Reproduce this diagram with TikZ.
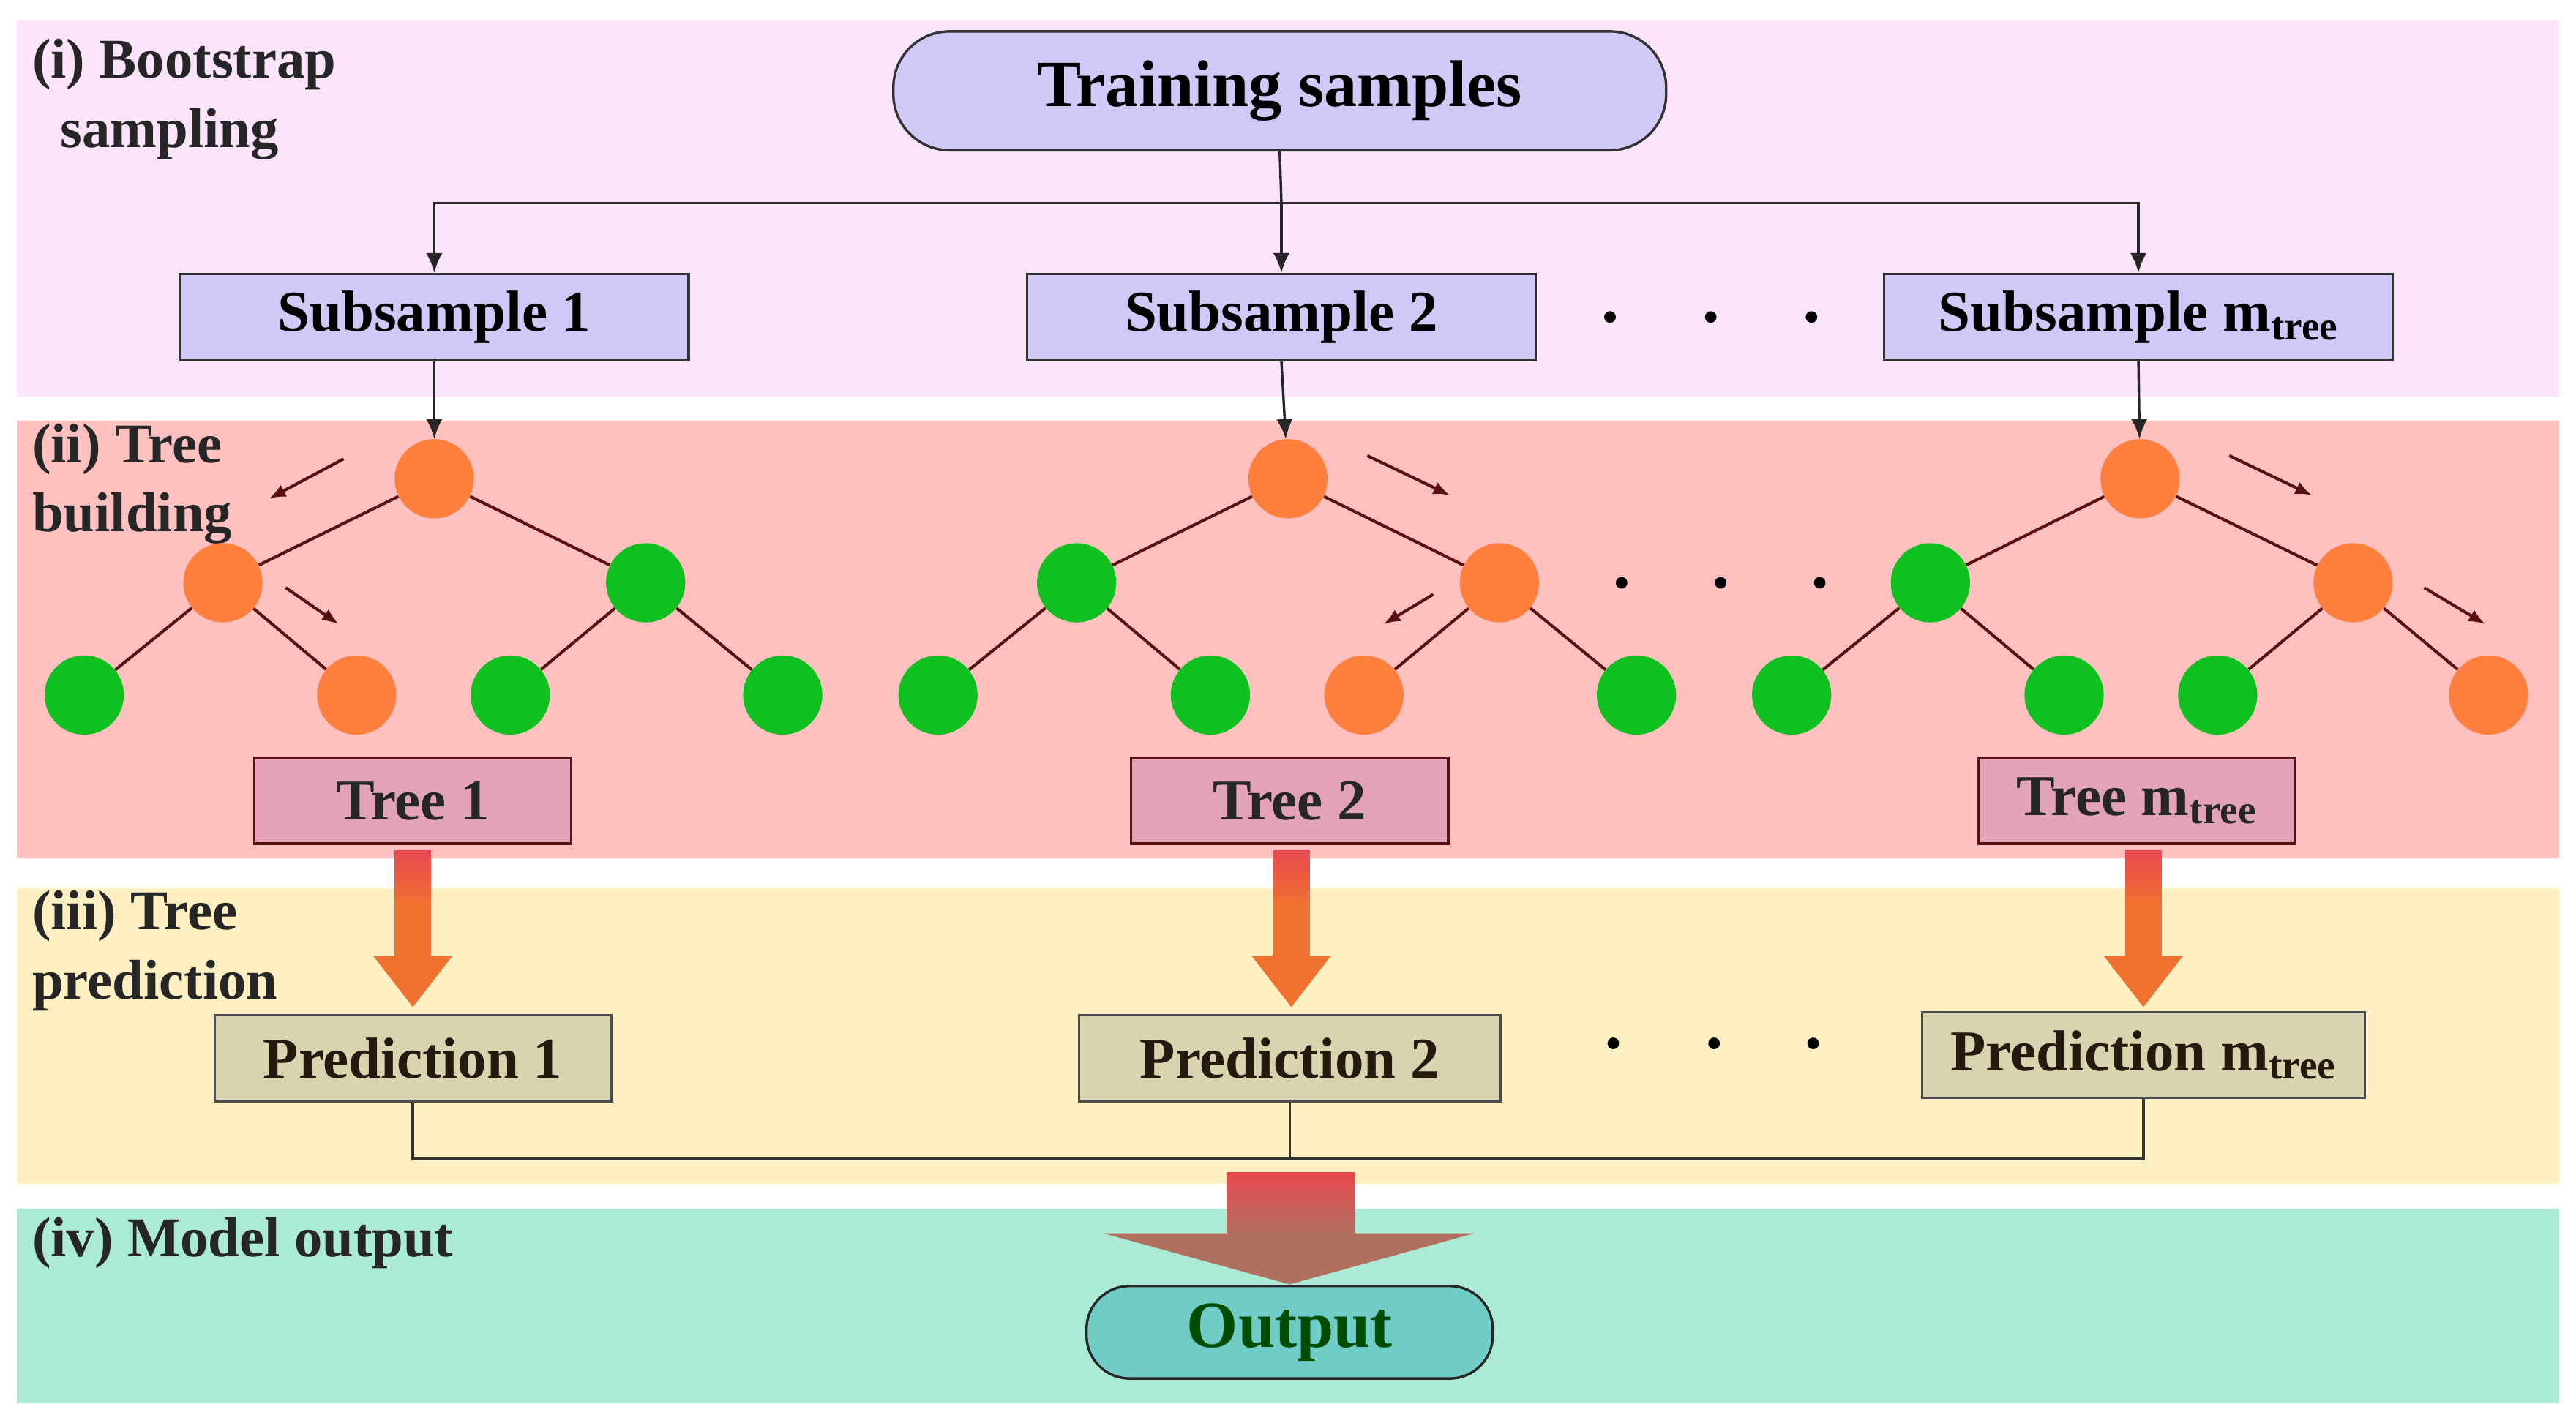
\documentclass[tikz,border=0pt]{standalone}
\usepackage{fontspec}
\setmainfont{Liberation Serif}
\usetikzlibrary{arrows.meta,calc}
\definecolor{bandA}{HTML}{FCE4FC}
\definecolor{bandB}{HTML}{FFC0C0}
\definecolor{bandC}{HTML}{FFF0C4}
\definecolor{bandD}{HTML}{AAEAD6}
\definecolor{lav}{HTML}{D0C8F6}
\definecolor{treebox}{HTML}{E2A2B8}
\definecolor{predbox}{HTML}{D8D4B0}
\definecolor{outbox}{HTML}{70CCC6}
\definecolor{org}{HTML}{FF7F3F}
\definecolor{grn}{HTML}{10C020}
\definecolor{dk}{HTML}{5A1010}
\definecolor{arrO}{HTML}{F07030}
\definecolor{arrR}{HTML}{E84850}
\definecolor{brn}{HTML}{B07060}
\begin{document}
\begin{tikzpicture}[x=1pt,y=-1pt,
 box/.style={draw=black!80,line width=1.5pt,minimum height=52pt,inner sep=0pt,font=\fontsize{35}{38}\selectfont\bfseries},
 sub/.style={box,fill=lav,minimum width=308pt},
 tb/.style={box,fill=treebox,draw=dk,minimum width=192pt,text=black!85},
 pb/.style={box,fill=predbox,draw=black!70,text=black!80!brown},
 lab/.style={anchor=north west,align=left,font=\fontsize{34}{42}\selectfont\bfseries,text=black!85},
 on/.style={circle,fill=org,minimum size=48pt,inner sep=0pt},
 gn/.style={circle,fill=grn,minimum size=48pt,inner sep=0pt},
 e/.style={draw=dk,line width=1.8pt},
 ar/.style={-{Latex[length=12pt,width=10pt]},line width=1.5pt,black!85},
 sa/.style={-{Latex[length=10pt,width=8pt]},line width=1.8pt,dk},
 dot/.style={circle,fill=black,minimum size=7pt,inner sep=0pt}]
\useasboundingbox (0,0) rectangle (1560,857);
\fill[white] (0,0) rectangle (1560,857);
\fill[bandA] (10,12) rectangle (1550,240);
\fill[bandB] (10,255) rectangle (1550,520);
\fill[bandC] (10,538) rectangle (1550,717);
\fill[bandD] (10,732) rectangle (1550,850);
\node[lab] (l1) at (16,20) {(i) Bootstrap\\\ \ sampling};
\node[lab] (l2) at (16,253) {(ii) Tree\\building};
\node[lab] (l3) at (16,536) {(iii) Tree\\prediction};
\node[lab] (l4) at (16,734) {(iv) Model output};

\node[box,fill=lav,rounded corners=34pt,minimum width=468pt,minimum height=72pt,font=\fontsize{40}{44}\selectfont\bfseries] (ts) at (775,55) {Training samples};
\node[sub] (s1) at (263,192) {Subsample 1};
\node[sub] (s2) at (776,192) {Subsample 2};
\node[sub] (s3) at (1295,192) {Subsample m\textsubscript{tree}};
\coordinate (j) at (776,123);
\draw[line width=1.5pt,black!85] (ts.south) -- (j);
\draw[ar] (j) -| (s1.north);
\draw[ar] (j) -- (s2.north);
\draw[ar] (j) -| (s3.north);
\foreach \x [count=\i] in {975,1036,1097} \node[dot] (da\i) at (\x,192) {};

% trees
\node[on] (r1) at (263,290) {}; \node[on] (a1) at (135,353) {}; \node[gn] (b1) at (391,353) {};
\node[gn] (c1) at (51,421) {}; \node[on] (d1) at (216,421) {}; \node[gn] (f1) at (309,421) {}; \node[gn] (g1) at (474,421) {};
\node[on] (r2) at (780,290) {}; \node[gn] (a2) at (652,353) {}; \node[on] (b2) at (908,353) {};
\node[gn] (c2) at (568,421) {}; \node[gn] (d2) at (733,421) {}; \node[on] (f2) at (826,421) {}; \node[gn] (g2) at (991,421) {};
\node[on] (r3) at (1296,290) {}; \node[gn] (a3) at (1169,353) {}; \node[on] (b3) at (1425,353) {};
\node[gn] (c3) at (1085,421) {}; \node[gn] (d3) at (1250,421) {}; \node[gn] (f3) at (1343,421) {}; \node[on] (g3) at (1507,421) {};
\foreach \t in {1,2,3}{
 \draw[e] (r\t) -- (a\t); \draw[e] (r\t) -- (b\t);
 \draw[e] (a\t) -- (c\t); \draw[e] (a\t) -- (d\t);
 \draw[e] (b\t) -- (f\t); \draw[e] (b\t) -- (g\t);}
\draw[ar] (s1.south) -- (r1); \draw[ar] (s2.south) -- (r2); \draw[ar] (s3.south) -- (r3);
\coordinate (p1) at (208,278); \coordinate (q1) at (163,302);
\coordinate (p2) at (173,356); \coordinate (q2) at (205,378);
\coordinate (p3) at (828,276); \coordinate (q3) at (878,300);
\coordinate (p4) at (868,360); \coordinate (q4) at (838,378);
\coordinate (p5) at (1350,276); \coordinate (q5) at (1400,300);
\coordinate (p6) at (1468,356); \coordinate (q6) at (1505,378);
\foreach \i in {1,...,6} \draw[sa] (p\i) -- (q\i);
\foreach \x [count=\i] in {982,1042,1102} \node[dot] (db\i) at (\x,353) {};

\node[tb] (t1) at (250,485) {Tree 1};
\node[tb] (t2) at (781,485) {Tree 2};
\node[tb] (t3) at (1294,485) {Tree m\textsubscript{tree}};

\node[pb,minimum width=240pt] (pr1) at (250,641) {Prediction 1};
\node[pb,minimum width=255pt] (pr2) at (781,641) {Prediction 2};
\node[pb,minimum width=268pt] (pr3) at (1298,639) {Prediction m\textsubscript{tree}};
\foreach \x [count=\i] in {977,1038,1098} \node[dot] (dc\i) at (\x,632) {};

% thick arrows
\foreach \x/\a/\b in {250/t1/pr1,782/t2/pr2,1298/t3/pr3}{
 \shade[top color=arrR,bottom color=arrO,middle color=arrO] (\x-11,515) rectangle (\x+11,580);
 \fill[arrO] (\x-24,579) -- (\x+24,579) -- (\x,610) -- cycle;}

\coordinate (m) at (781,702);
\draw[line width=1.5pt,black!80] (pr1.south) |- (m) -| (pr3.south);
\draw[line width=1.5pt,black!80] (pr2.south) -- (m);

\shade[top color=arrR,bottom color=brn] (743,710) rectangle (820,748);
\fill[brn] (668,747) -- (893,747) -- (781,778) -- cycle;
\node[box,fill=outbox,draw=black!85,rounded corners=26pt,minimum width=246pt,minimum height=56pt,font=\fontsize{40}{44}\selectfont\bfseries,text=black!70!green] (out) at (781,807) {Output};
\end{tikzpicture}
\end{document}
